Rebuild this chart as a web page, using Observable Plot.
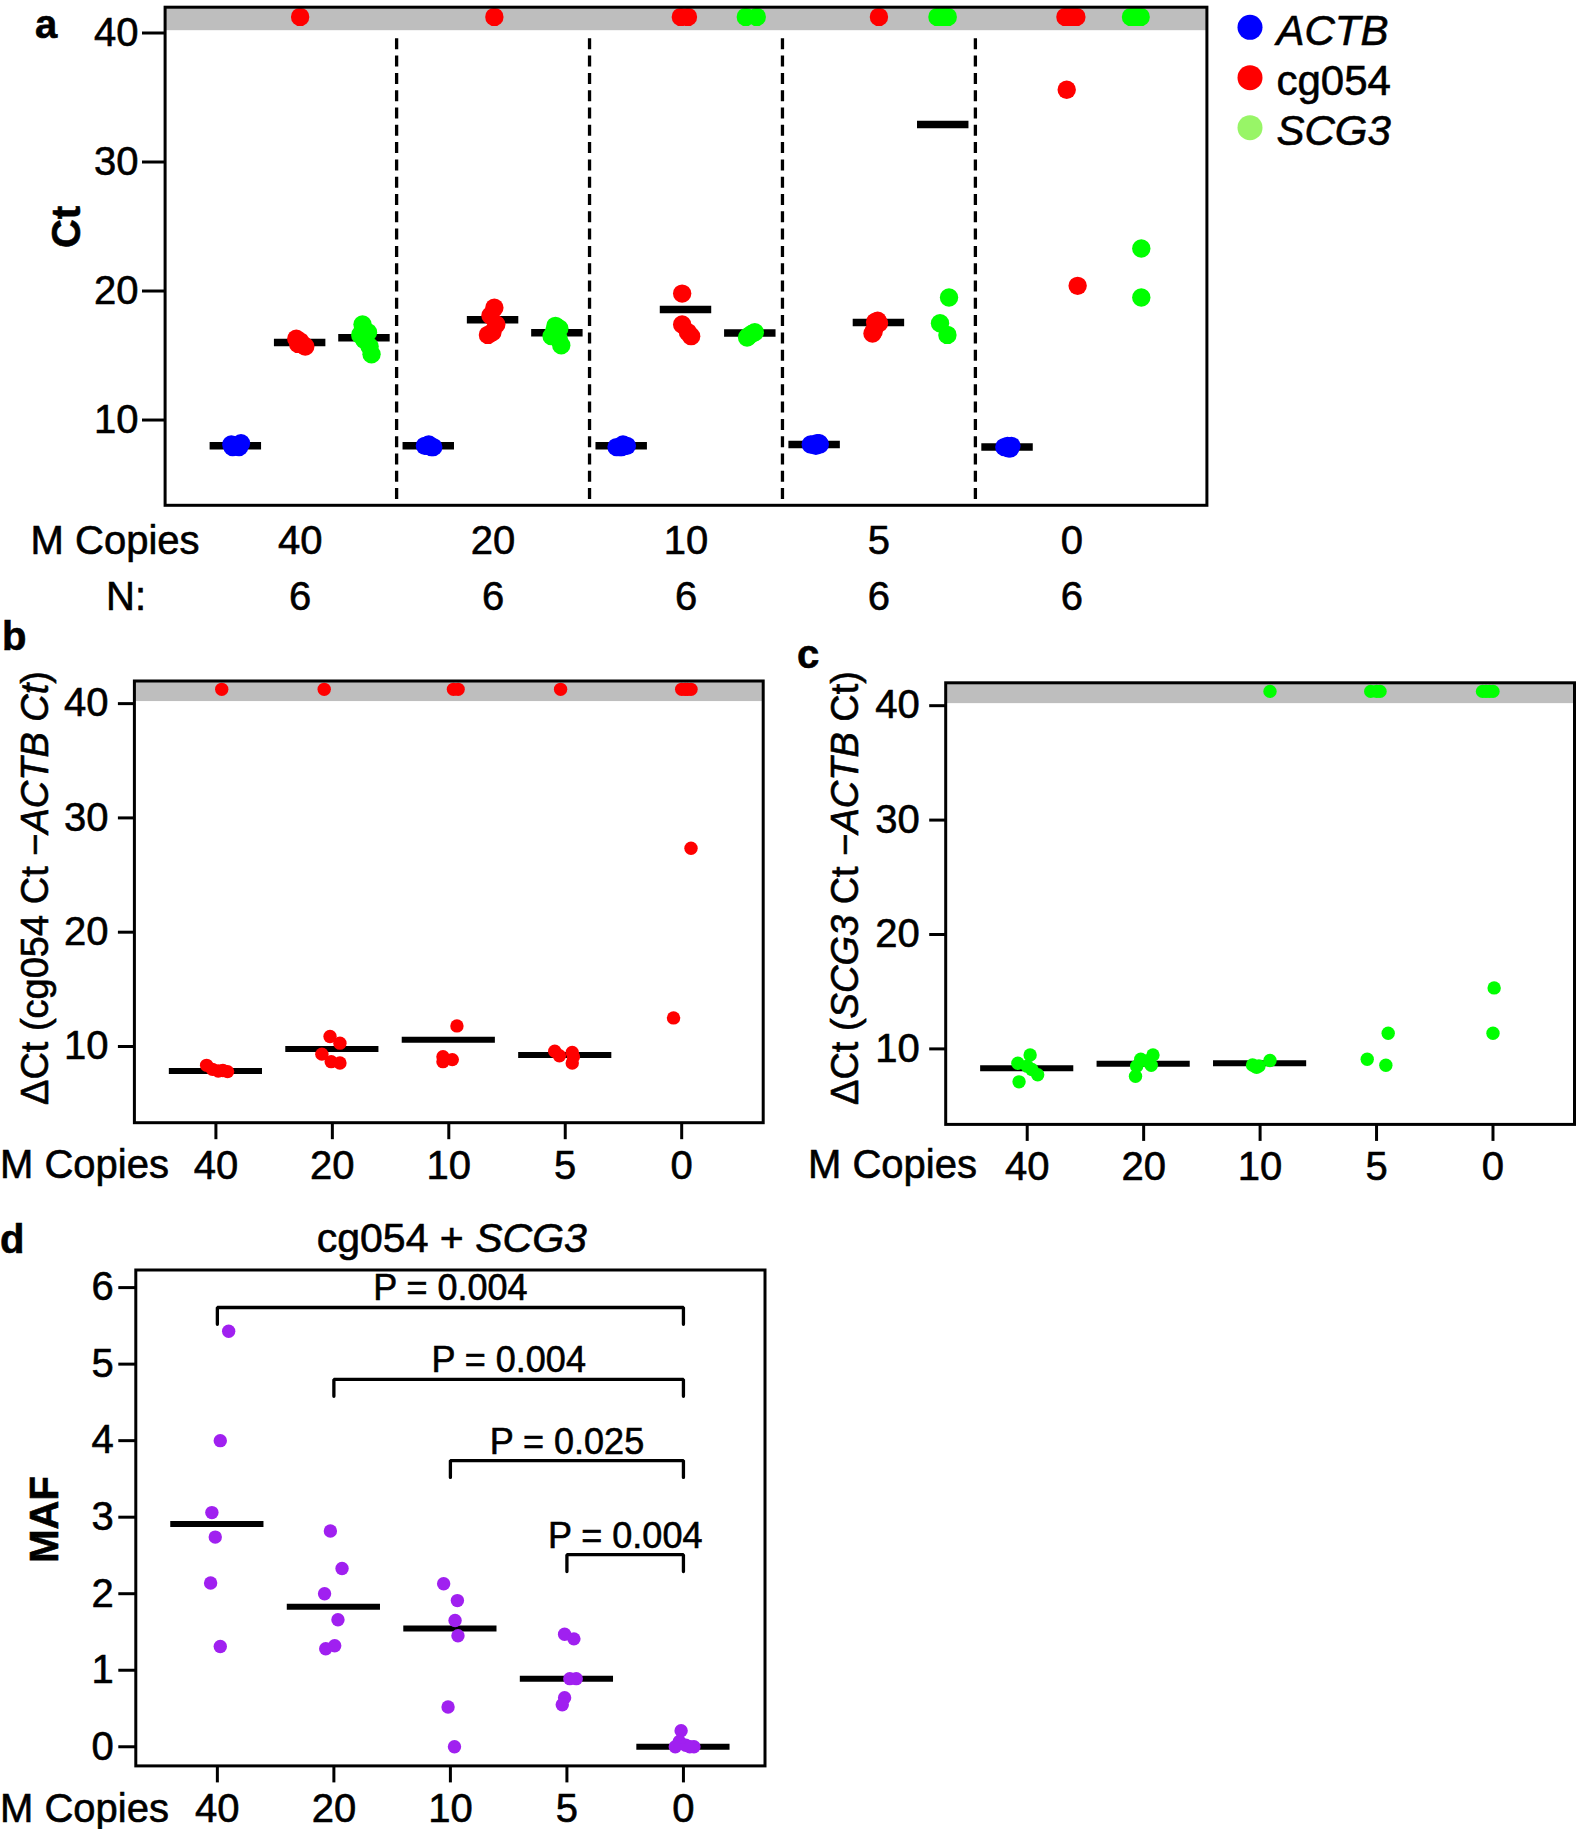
<!DOCTYPE html>
<html>
<head>
<meta charset="utf-8">
<script src="https://cdn.jsdelivr.net/npm/d3@7"></script>
<script src="https://cdn.jsdelivr.net/npm/@observablehq/plot@0.6"></script>
<style>
html, body { margin: 0; padding: 0; background: #fff; }
#page { position: relative; width: 1576px; height: 1829px; overflow: hidden; background: #fff; }
.panel { position: absolute; }
.panel svg { display: block; overflow: visible; }
.panel svg text { stroke: black; stroke-width: 0.6px; }
</style>
</head>
<body>
<div id="page"></div>
<script>
// ---------------- DATA ----------------
const copies = ["40", "20", "10", "5", "0"];          // M copies per group
const nPerGroup = [6, 6, 6, 6, 6];                    // N per group
const genes = ["ACTB", "cg054", "SCG3"];
const U = null;                                       // undetermined (Ct > 40), shown in grey strip

// Panel a: Ct values, one array of 6 per copy group
const ctACTB = [
  [8.1, 7.9, 8.0, 8.2, 8.0, 7.9],
  [8.0, 7.9, 8.1, 7.9, 8.0, 8.0],
  [7.9, 8.0, 8.1, 7.9, 8.0, 7.9],
  [8.1, 8.2, 8.0, 8.1, 8.2, 8.1],
  [7.9, 7.8, 8.0, 7.9, 7.8, 8.0]
];
const ctCg054 = [
  [16.3, 16.1, 15.9, 15.8, 15.7, U],
  [18.7, 18.1, 17.4, 16.8, 16.6, U],
  [19.8, 17.4, 16.8, 16.5, U, U],
  [17.7, 17.6, 17.5, 16.9, 16.7, U],
  [35.6, 20.4, U, U, U, U]
];
const ctSCG3 = [
  [17.4, 16.8, 16.6, 16.2, 15.7, 15.1],
  [17.3, 17.1, 16.9, 16.5, 16.3, 15.8],
  [16.8, 16.7, 16.5, 16.4, U, U],
  [19.5, 17.5, 16.6, U, U, U],
  [23.3, 19.5, U, U, U, U]
];
// horizontal jitter of each point (x units)
const jitACTB = [
  [-0.07, 0.05, -0.02, 0.08, 0.0, -0.05],
  [-0.06, 0.04, 0.0, 0.07, -0.03, 0.02],
  [-0.08, 0.05, 0.02, -0.03, 0.08, 0.0],
  [-0.06, 0.07, 0.02, -0.02, 0.04, 0.08],
  [-0.05, 0.02, 0.06, -0.02, 0.04, 0.0]
];
const jitCg054 = [
  [-0.06, 0.0, -0.03, 0.05, 0.08, 0.0],
  [0.02, -0.04, 0.05, -0.01, -0.08, 0.02],
  [-0.06, -0.06, 0.03, 0.08, -0.08, 0.03],
  [-0.02, -0.06, 0.0, -0.08, -0.1, 0.0],
  [-0.08, 0.09, -0.1, -0.03, 0.03, 0.07]
];
const jitSCG3 = [
  [-0.03, 0.055, -0.065, 0.0, 0.08, 0.11],
  [-0.03, 0.03, -0.05, -0.09, 0.02, 0.06],
  [0.07, 0.03, -0.03, -0.05, -0.07, 0.1],
  [0.09, -0.05, 0.065, -0.09, 0.0, 0.07],
  [0.08, 0.08, -0.08, -0.03, 0.03, 0.07]
];
const medACTB = [8.0, 8.0, 8.0, 8.1, 7.9];
const medCg054 = [16.0, 17.77, 18.57, 17.56, U];
const medSCG3 = [16.37, 16.76, 16.75, 32.9, U];

// Panel b: ΔCt (cg054 - ACTB)
const dctCg054 = [
  [8.35, 8.0, 7.9, 7.85, 7.8, U],
  [10.87, 10.29, 9.33, 8.67, 8.56, U],
  [11.8, 9.1, 8.85, 8.67, U, U],
  [9.59, 9.47, 9.19, 9.1, 8.56, U],
  [27.34, 12.5, U, U, U, U]
];
const jitB = [
  [-0.08, -0.03, 0.06, 0.02, 0.1, 0.05],
  [-0.02, 0.065, -0.09, -0.01, 0.065, -0.07],
  [0.07, -0.05, 0.03, -0.05, 0.04, 0.08],
  [-0.09, 0.06, -0.05, 0.07, 0.06, -0.04],
  [0.08, -0.07, 0.0, 0.03, 0.05, 0.08]
];
const medB = [7.86, 9.77, 10.59, 9.26, U];

// Panel c: ΔCt (SCG3 - ACTB)
const dctSCG3 = [
  [9.47, 8.74, 8.49, 8.2, 7.74, 7.12],
  [9.47, 9.1, 8.95, 8.57, 8.49, 7.6],
  [8.99, 8.6, 8.5, 8.49, 8.4, U],
  [11.37, 9.1, 8.57, U, U, U],
  [15.33, 11.37, U, U, U, U]
];
const jitC = [
  [0.025, -0.08, 0.0, 0.04, 0.09, -0.07],
  [0.08, -0.025, 0.03, 0.065, -0.06, -0.07],
  [0.085, -0.065, -0.01, -0.045, -0.03, 0.085],
  [0.1, -0.08, 0.08, -0.05, 0.0, 0.03],
  [0.01, 0.0, -0.09, -0.06, -0.03, 0.0]
];
const medC = [8.31, 8.7, 8.74, U, U];

// Panel d: MAF (cg054 + SCG3)
const maf = [
  [5.43, 4.0, 3.06, 2.74, 2.14, 1.31],
  [2.82, 2.33, 2.0, 1.66, 1.32, 1.28],
  [2.13, 1.91, 1.65, 1.45, 0.52, 0.0],
  [1.47, 1.41, 0.89, 0.89, 0.64, 0.55],
  [0.21, 0.07, 0.02, 0.0, 0.0, 0.0]
];
const jitD = [
  [0.097, 0.025, -0.047, -0.018, -0.058, 0.025],
  [-0.03, 0.07, -0.08, 0.035, 0.007, -0.07],
  [-0.058, 0.06, 0.04, 0.065, -0.02, 0.035],
  [-0.02, 0.06, 0.025, 0.08, -0.02, -0.04],
  [-0.02, -0.035, 0.02, -0.07, 0.09, 0.055]
];
const medD = [2.91, 1.83, 1.545, 0.89, 0.0];

// Panel d comparisons (group from -> to, bracket height, label)
const cmpFrom = ["40", "20", "10", "5"];
const cmpTo = ["0", "0", "0", "0"];
const cmpY = [5.74, 4.80, 3.74, 2.51];
const cmpP = ["P = 0.004", "P = 0.004", "P = 0.025", "P = 0.004"];

// ---------------- STYLE ----------------
const FONT = "'Liberation Sans', Arial, Helvetica, sans-serif";
const COL = {ACTB: "#0000ff", cg054: "#ff0000", SCG3: "#00ff00", MAF: "#a020f0"};
const LEGEND_COL = {ACTB: "#0000ff", cg054: "#ff0000", SCG3: "#98f567"};
const GREY = "#bebebe";
const UNDET_Y = 41.25;
const STRIP_LOW = 40.18;

const page = document.getElementById("page");
function place(svg, left, top) {
  const div = document.createElement("div");
  div.className = "panel";
  div.style.left = left + "px";
  div.style.top = top + "px";
  div.appendChild(svg);
  page.appendChild(div);
  return d3.select(svg);
}
function addText(sel, x, y, parts, o = {}) {
  const t = sel.append("text")
    .attr("x", x).attr("y", y)
    .attr("font-family", FONT)
    .attr("font-size", o.size || 40)
    .attr("fill", "black")
    .attr("text-anchor", o.anchor || "start");
  if (o.weight) t.attr("font-weight", o.weight);
  if (o.rotate) t.attr("transform", `rotate(-90 ${x} ${y})`);
  for (const p of parts) {
    const s = typeof p === "string" ? {t: p} : p;
    const ts = t.append("tspan").text(s.t);
    if (s.i) ts.attr("font-style", "italic");
  }
  return t;
}
const baseStyle = {fontFamily: FONT, fontSize: "40px", color: "black", background: "none", overflow: "visible"};

function points(values, jit, posOf, fill) {
  return values.flatMap((grp, g) => grp.map((v, i) => ({
    x: posOf(g) + jit[g][i], y: v == null ? UNDET_Y : v, fill
  })));
}
function medians(meds, posOf) {
  return meds.map((v, g) => ({x: posOf(g), y: v})).filter(d => d.y != null);
}

// ---------------- PANEL A ----------------
const ctByGene = {ACTB: ctACTB, cg054: ctCg054, SCG3: ctSCG3};
const jitByGene = {ACTB: jitACTB, cg054: jitCg054, SCG3: jitSCG3};
const medByGene = {ACTB: medACTB, cg054: medCg054, SCG3: medSCG3};
const posA = (g, k) => 3 * g + k + 1;
const ptsA = genes.flatMap((gene, k) => points(ctByGene[gene], jitByGene[gene], g => posA(g, k), COL[gene]));
const medA = genes.flatMap((gene, k) => medians(medByGene[gene], g => posA(g, k)));
const groupCentersA = copies.map((c, g) => posA(g, 1));
const separatorsA = copies.slice(1).map((c, g) => posA(g, 2) + 0.5);
const xDomA = [-0.1, 16.1], yDomA = [3.39, 42.0];

const plotA = Plot.plot({
  width: 1576, height: 612,
  marginLeft: 164.6, marginRight: 1576 - 1206.4, marginTop: 6.7, marginBottom: 612 - 504.8,
  x: {domain: xDomA}, y: {domain: yDomA}, color: {type: "identity"},
  style: baseStyle,
  marks: [
    Plot.rect([0], {x1: () => xDomA[0], x2: () => xDomA[1], y1: () => STRIP_LOW, y2: () => yDomA[1], fill: GREY}),
    Plot.ruleX(separatorsA, {x: d => d, y1: () => 39.55, y2: () => yDomA[0], stroke: "black", strokeWidth: 3.3, strokeDasharray: "11,6.3"}),
    Plot.ruleY(medA, {y: "y", x1: d => d.x - 0.4, x2: d => d.x + 0.4, stroke: "black", strokeWidth: 7.5}),
    Plot.dot(ptsA, {x: "x", y: "y", fill: "fill", r: 9.2}),
    Plot.frame({stroke: "black", strokeWidth: 3}),
    Plot.axisY({ticks: [10, 20, 30, 40], tickFormat: d => String(d), tickSize: 22.6, tickPadding: 4, strokeWidth: 3, label: null, fontSize: 40}),
    Plot.axisX({ticks: groupCentersA, tickFormat: d => copies[groupCentersA.indexOf(d)], tickSize: 0, tickPadding: 20.3, label: null, fontSize: 40}),
    Plot.axisX({ticks: groupCentersA, tickFormat: d => String(nPerGroup[groupCentersA.indexOf(d)]), tickSize: 0, tickPadding: 76.5, label: null, fontSize: 40})
  ]
});
const sA = place(plotA, 0, 0);
addText(sA, 35, 38.3, ["a"], {weight: "bold", size: 40});
addText(sA, 80, 227, ["Ct"], {weight: "bold", size: 40, anchor: "middle", rotate: true});
addText(sA, 30.6, 553.5, ["M Copies"], {size: 40});
addText(sA, 106, 609.7, ["N:"], {size: 40});
// legend
const legY = [27.3, 77.7, 127.7];
genes.forEach((gene, k) => {
  sA.append("circle").attr("cx", 1250).attr("cy", legY[k]).attr("r", 12.5).attr("fill", LEGEND_COL[gene]);
  addText(sA, 1276.5, legY[k] + 17.5, [{t: gene, i: gene !== "cg054"}], {size: 42});
});

// ---------------- PANELS B & C ----------------
const posBC = g => g + 1;
const tickPosBC = copies.map((c, g) => posBC(g));
function deltaPanel(values, jit, meds, color, opts) {
  return Plot.plot({
    width: opts.width, height: 588,
    marginLeft: opts.ml, marginRight: opts.mr, marginTop: opts.mt, marginBottom: opts.mb,
    x: {domain: [0.3, 5.7]}, y: {domain: opts.yDom}, color: {type: "identity"},
    style: baseStyle,
    marks: [
      Plot.rect([0], {x1: () => 0.3, x2: () => 5.7, y1: () => STRIP_LOW, y2: () => opts.yDom[1], fill: GREY}),
      Plot.ruleY(medians(meds, posBC), {y: "y", x1: d => d.x - 0.4, x2: d => d.x + 0.4, stroke: "black", strokeWidth: 6}),
      Plot.dot(points(values, jit, posBC, color), {x: "x", y: "y", fill: "fill", r: 6.7}),
      Plot.frame({stroke: "black", strokeWidth: 3}),
      Plot.axisY({ticks: [10, 20, 30, 40], tickFormat: d => String(d), tickSize: 16, tickPadding: 10, strokeWidth: 3, label: null, fontSize: 40}),
      Plot.axisX({ticks: tickPosBC, tickFormat: d => copies[d - 1], tickSize: 17, tickPadding: 10.4, strokeWidth: 3, label: null, fontSize: 40})
    ]
  });
}
const plotB = deltaPanel(dctCg054, jitB, medB, COL.cg054,
  {width: 790, ml: 133.9, mr: 790 - 762.7, mt: 68.5, mb: 77.8, yDom: [3.33, 41.98]});
const sB = place(plotB, 0, 612);
addText(sB, 2, 38, ["b"], {weight: "bold", size: 40});
addText(sB, 48, 276, ["ΔCt (cg054 Ct −", {t: "ACTB Ct", i: true}, ")"], {size: 38, anchor: "middle", rotate: true});
addText(sB, 0, 566, ["M Copies"], {size: 40});

const plotC = deltaPanel(dctSCG3, jitC, medC, COL.SCG3,
  {width: 786, ml: 155.2, mr: 2, mt: 70.3, mb: 76.1, yDom: [3.4, 42.0]});
const sC = place(plotC, 790, 612);
addText(sC, 7, 56, ["c"], {weight: "bold", size: 40});
addText(sC, 68, 276, ["ΔCt (", {t: "SCG3", i: true}, " Ct −", {t: "ACTB", i: true}, " Ct)"], {size: 38, anchor: "middle", rotate: true});
addText(sC, 18, 566, ["M Copies"], {size: 40});

// ---------------- PANEL D ----------------
const ptsD = points(maf, jitD, posBC, COL.MAF);
const medPtsD = medians(medD, posBC);
const DROP = 0.22;
const brackets = cmpFrom.map((f, i) => ({
  id: i, from: copies.indexOf(f) + 1, to: copies.indexOf(cmpTo[i]) + 1, y: cmpY[i], label: cmpP[i]
}));
const bracketPts = brackets.flatMap(b => [
  {id: b.id, x: b.from, y: b.y - DROP}, {id: b.id, x: b.from, y: b.y},
  {id: b.id, x: b.to, y: b.y}, {id: b.id, x: b.to, y: b.y - DROP}
]);
const plotD = Plot.plot({
  width: 790, height: 629,
  marginLeft: 135.3, marginRight: 25.5, marginTop: 69.5, marginBottom: 63.6,
  x: {domain: [0.3, 5.7]}, y: {domain: [-0.25, 6.23]}, color: {type: "identity"},
  style: baseStyle,
  marks: [
    Plot.line(bracketPts, {x: "x", y: "y", z: "id", stroke: "black", strokeWidth: 3.3, strokeLinejoin: "miter"}),
    Plot.text(brackets, {x: d => (d.from + d.to) / 2, y: "y", text: "label", lineAnchor: "bottom", dy: -7, fontSize: 36, fill: "black"}),
    Plot.ruleY(medPtsD, {y: "y", x1: d => d.x - 0.4, x2: d => d.x + 0.4, stroke: "black", strokeWidth: 6}),
    Plot.dot(ptsD, {x: "x", y: "y", fill: "fill", r: 6.7}),
    Plot.frame({stroke: "black", strokeWidth: 3}),
    Plot.axisY({ticks: [0, 1, 2, 3, 4, 5, 6], tickFormat: d => String(d), tickSize: 17, tickPadding: 5, strokeWidth: 3, label: null, fontSize: 40}),
    Plot.axisX({ticks: tickPosBC, tickFormat: d => copies[d - 1], tickSize: 17, tickPadding: 10.7, strokeWidth: 3, label: null, fontSize: 40})
  ]
});
const sD = place(plotD, 0, 1200);
addText(sD, 0, 53, ["d"], {weight: "bold", size: 40});
addText(sD, 451.8, 52, ["cg054 + ", {t: "SCG3", i: true}], {size: 41, anchor: "middle"});
addText(sD, 58, 319.5, ["MAF"], {weight: "bold", size: 40, anchor: "middle", rotate: true});
addText(sD, 0, 621.5, ["M Copies"], {size: 40});
</script>
</body>
</html>
